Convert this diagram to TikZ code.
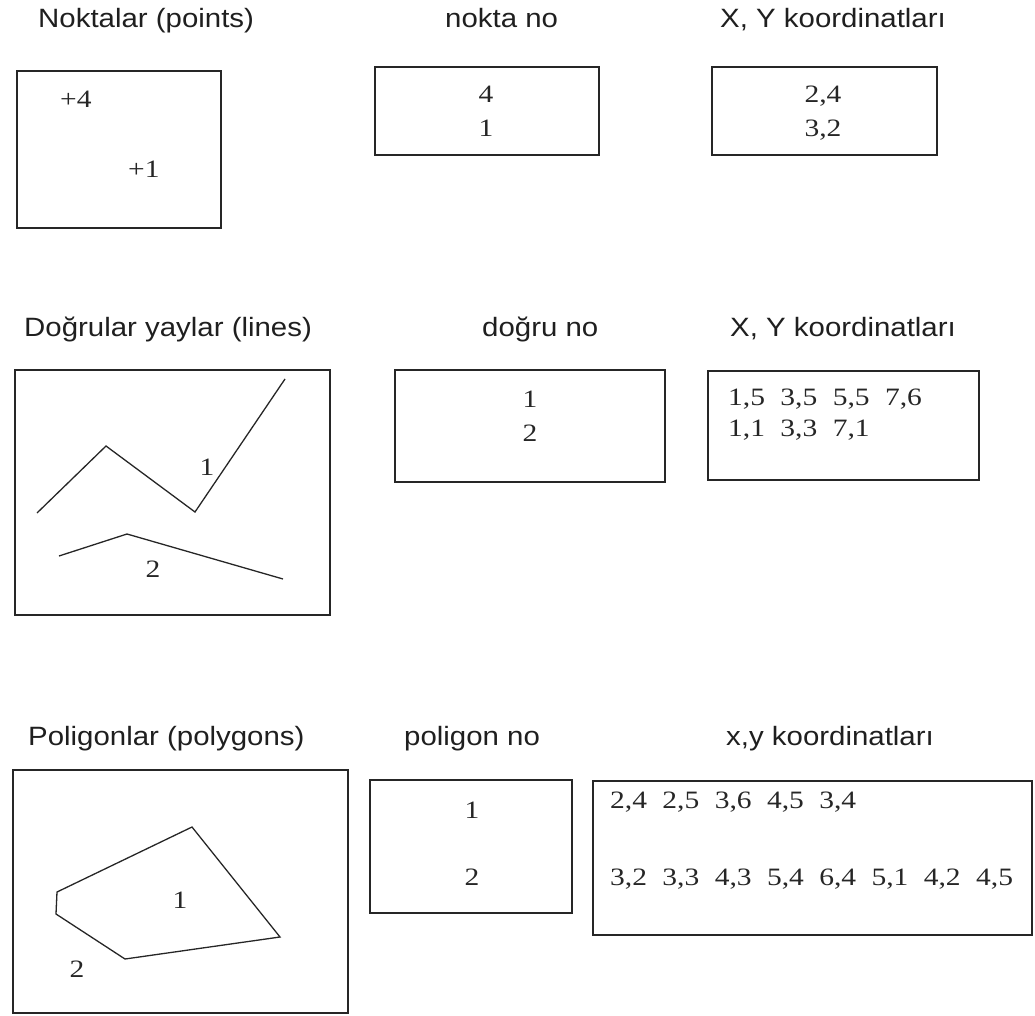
\documentclass[tikz,border=0pt]{standalone}
\usepackage{fontspec}
\setmainfont{Liberation Serif}
\newfontfamily\headfont[FakeStretch=1.11]{Liberation Sans}
\newfontfamily\numfont[FakeStretch=1.18]{Liberation Serif}
\newcommand\pairgap{\hspace*{15.4pt}}
\begin{document}
\begin{tikzpicture}[x=1pt,y=-1pt,
  frame/.style={draw=black!85, line width=1.4pt, inner sep=0pt, outer sep=0pt, anchor=north west},
  head/.style={font=\headfont\fontsize{26.5}{29}\selectfont, inner sep=0pt, anchor=base west, text=black!88},
  num/.style={font=\numfont\fontsize{25}{28}\selectfont, inner sep=0pt, anchor=base, text=black!85},
  numl/.style={num, anchor=base west},
  sketch/.style={draw=black!85, line width=1.3pt, line join=miter}]
\useasboundingbox (0,0) rectangle (1035,1016);

% ---------- row 1: points ----------
\node[head] (h11) at (38,28) {Noktalar (points)};
\node[head] (h12) at (445,28) {nokta no};
\node[head] (h13) at (720,28) {X, Y koordinatları};

\node[frame, minimum width=204pt, minimum height=157pt] (b11) at (17,71) {};
\node[numl] (pt4) at (60,108) {+4};
\node[numl] (pt1) at (128,178) {+1};

\node[frame, minimum width=224pt, minimum height=88pt] (b12) at (375,67) {};
\node[num] (n4) at (486,103) {4};
\node[num] (n1) at (486,137) {1};

\node[frame, minimum width=225pt, minimum height=88pt] (b13) at (712,67) {};
\node[num] (c24) at (823,103) {2,4};
\node[num] (c32) at (823,137) {3,2};

% ---------- row 2: lines ----------
\node[head] (h21) at (24,336) {Doğrular yaylar (lines)};
\node[head] (h22) at (482,336) {doğru no};
\node[head] (h23) at (730,336) {X, Y koordinatları};

\node[frame, minimum width=315pt, minimum height=245pt] (b21) at (15,370) {};
\draw[sketch] (37,513) -- (106,446) -- (195,512) -- (285,379);
\draw[sketch] (59,556) -- (127,534) -- (283,579);
\node[num] (l1) at (207,475) {1};
\node[num] (l2) at (153,577) {2};

\node[frame, minimum width=270pt, minimum height=112pt] (b22) at (395,370) {};
\node[num] (d1) at (530,407) {1};
\node[num] (d2) at (530,441) {2};

\node[frame, minimum width=271pt, minimum height=109pt] (b23) at (708,371) {};
\node[numl] (lc1) at (728,405) {1,5\pairgap 3,5\pairgap 5,5\pairgap 7,6};
\node[numl] (lc2) at (728,436) {1,1\pairgap 3,3\pairgap 7,1};

% ---------- row 3: polygons ----------
\node[head] (h31) at (28,745) {Poligonlar (polygons)};
\node[head] (h32) at (404,745) {poligon no};
\node[head] (h33) at (726,745) {x,y koordinatları};

\node[frame, minimum width=335pt, minimum height=243pt] (b31) at (13,770) {};
\draw[sketch] (57,892) -- (192,827) -- (280,937) -- (125,959) -- (56,914) -- cycle;
\node[num] (g1) at (180,908) {1};
\node[num] (g2) at (77,977) {2};

\node[frame, minimum width=202pt, minimum height=133pt] (b32) at (370,780) {};
\node[num] (p1) at (472,818) {1};
\node[num] (p2) at (472,885) {2};

\node[frame, minimum width=439pt, minimum height=154pt] (b33) at (593,781) {};
\node[numl] (pc1) at (610,808) {2,4\pairgap 2,5\pairgap 3,6\pairgap 4,5\pairgap 3,4};
\node[numl] (pc2) at (610,885) {3,2\pairgap 3,3\pairgap 4,3\pairgap 5,4\pairgap 6,4\pairgap 5,1\pairgap 4,2\pairgap 4,5};
\end{tikzpicture}
\end{document}
